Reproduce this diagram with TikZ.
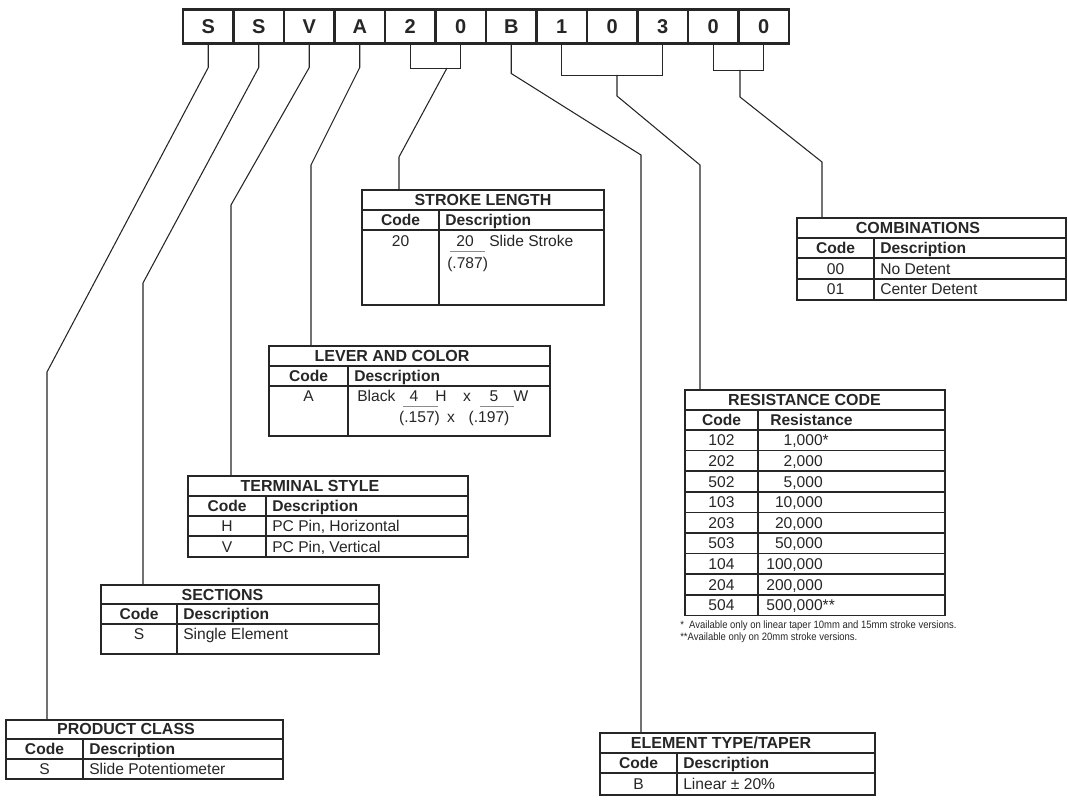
\documentclass[tikz,border=0pt]{standalone}
\usepackage{fontspec}
\setmainfont{Liberation Sans}
\newfontfamily\notefont[FakeStretch=0.89]{Liberation Sans}

\begin{document}
\begin{tikzpicture}[x=0.75pt,y=-0.75pt,
    cell/.style={draw=black!85, line width=1.6pt, minimum width=37.9pt, minimum height=25.5pt,
      inner sep=0pt, outer sep=0pt, font=\fontsize{15}{17}\selectfont\bfseries, text=black!85},
    tbl/.style={draw=black!85, line width=1.1pt},
    lead/.style={draw=black!85, line width=0.8pt},
    frac/.style={draw=black!45, line width=0.5pt},
    ttl/.style={font=\fontsize{12}{14}\selectfont\bfseries, text=black!85, inner sep=0pt, anchor=base},
    hd/.style={font=\fontsize{11.7}{14}\selectfont\bfseries, text=black!85, inner sep=0pt, anchor=base},
    txt/.style={font=\fontsize{11.7}{14}\selectfont, text=black!85, inner sep=0pt, anchor=base},
    note/.style={font=\notefont\fontsize{8}{9}\selectfont, text=black!85, inner sep=0pt, anchor=base west}
  ]
  \useasboundingbox (0,0) rectangle (1068,806);

  % Code row
  \foreach \ch [count=\i] in {S,S,V,A,2,0,B,1,0,3,0,0}
    \node[cell] (c\i) at ({183+50.5*(\i-0.5)},26.5) {\ch};

  % Product class
  \draw[tbl] (6,720) rectangle (283,779);
  \draw[tbl] (6,739) -- (283,739) (6,759) -- (283,759) (83,739) -- (83,779);
  \node[ttl] (pcTitle) at (126,734.5) {PRODUCT CLASS};
  \node[hd] (pcCode) at (44.5,754.5) {Code};
  \node[hd,anchor=base west] (pcDesc) at (89,754.5) {Description};
  \node[txt] (pcS) at (44.5,774) {S};
  \node[txt,anchor=base west] (pcSlide) at (89,774) {Slide Potentiometer};

  % Sections
  \draw[tbl] (101,585) rectangle (379,654);
  \draw[tbl] (101,604) -- (379,604) (101,624) -- (379,624) (177,604) -- (177,654);
  \node[ttl] (secTitle) at (222.5,600) {SECTIONS};
  \node[hd] (secCode) at (139,619.5) {Code};
  \node[hd,anchor=base west] (secDesc) at (183,619.5) {Description};
  \node[txt] (secS) at (139,639) {S};
  \node[txt,anchor=base west] (secSingle) at (183,639) {Single Element};

  % Terminal style
  \draw[tbl] (188,476) rectangle (468,557);
  \draw[tbl] (188,496) -- (468,496) (188,516) -- (468,516) (188,536) -- (468,536) (266,496) -- (266,557);
  \node[ttl] (termTitle) at (310,491.5) {TERMINAL STYLE};
  \node[hd] (termCode) at (227,511.5) {Code};
  \node[hd,anchor=base west] (termDesc) at (272,511.5) {Description};
  \node[txt] (termH) at (227,531.5) {H};
  \node[txt,anchor=base west] (termHor) at (272,531.5) {PC Pin, Horizontal};
  \node[txt] (termV) at (227,552) {V};
  \node[txt,anchor=base west] (termVer) at (272,552) {PC Pin, Vertical};

  % Lever and color
  \draw[tbl] (269,346) rectangle (550,436);
  \draw[tbl] (269,366) -- (550,366) (269,386) -- (550,386) (348,366) -- (348,436);
  \node[ttl] (levTitle) at (392,361.5) {LEVER AND COLOR};
  \node[hd] (levCode) at (308.5,381.5) {Code};
  \node[hd,anchor=base west] (levDesc) at (354,381.5) {Description};
  \node[txt] (levA) at (308.5,401.5) {A};
  \node[txt,anchor=base west] (levBlack) at (357,401.5) {Black};
  \node[txt] (levFour) at (414,401.5) {4};
  \node[txt] (levH) at (441,401.5) {H};
  \node[txt] (levX) at (467,401.5) {x};
  \node[txt] (levFive) at (494,401.5) {5};
  \node[txt] (levW) at (521,401.5) {W};
  \draw[frac] (403,406) -- (438,406) (480,406) -- (514,406);
  \node[txt] (levIn) at (419.5,422.5) {(.157)};
  \node[txt] (levX2) at (451,422.5) {x};
  \node[txt] (levIn2) at (489,422.5) {(.197)};

  % Stroke length
  \draw[tbl] (362,190) rectangle (604,305);
  \draw[tbl] (362,210) -- (604,210) (362,230) -- (604,230) (439,210) -- (439,305);
  \node[ttl] (strTitle) at (483,205.5) {STROKE LENGTH};
  \node[hd] (strCode) at (400.5,225.5) {Code};
  \node[hd,anchor=base west] (strDesc) at (445,225.5) {Description};
  \node[txt] (str20) at (400.5,246.5) {20};
  \node[txt] (strMm) at (465,246.5) {20};
  \draw[frac] (450,251) -- (485,251);
  \node[txt,anchor=base west] (strSlide) at (489,246.5) {Slide Stroke};
  \node[txt,anchor=base west] (strIn) at (447,268.5) {(.787)};

  % Combinations
  \draw[tbl] (797,218) rectangle (1066,300);
  \draw[tbl] (797,238) -- (1066,238) (797,258) -- (1066,258) (797,279) -- (1066,279) (874,238) -- (874,300);
  \node[ttl] (comTitle) at (918,233.5) {COMBINATIONS};
  \node[hd] (comCode) at (835.5,253.5) {Code};
  \node[hd,anchor=base west] (comDesc) at (880,253.5) {Description};
  \node[txt] (com00) at (835.5,274) {00};
  \node[txt,anchor=base west] (comNo) at (880,274) {No Detent};
  \node[txt] (com01) at (835.5,294.5) {01};
  \node[txt,anchor=base west] (comCenter) at (880,294.5) {Center Detent};

  % Resistance code
  \draw[tbl] (685,390) rectangle (945,615.4);
  \draw[tbl] (685,410) -- (945,410) (685,430) -- (945,430) (758,410) -- (758,615.4);
  \node[ttl] (resTitle) at (804.5,405.5) {RESISTANCE CODE};
  \node[hd] (resCode) at (721.5,425.5) {Code};
  \node[hd,anchor=base west] (resRes) at (770,425.5) {Resistance};
  \foreach \cd/\val [count=\k] in {102/{1,000\rlap{*}}, 202/{2,000}, 502/{5,000}, 103/{10,000},
      203/{20,000}, 503/{50,000}, 104/{100,000}, 204/{200,000}, 504/{500,000\rlap{**}}} {
    \draw[tbl] (685,{430+20.6*\k}) -- (945,{430+20.6*\k});
    \node[txt] (resC\k) at (721.5,{430+20.6*(\k-0.5)+5.5}) {\cd};
    \node[txt,anchor=base east] (resV\k) at (823,{430+20.6*(\k-0.5)+5.5}) {\val};
  }
  \node[note] (resNoteA) at (680,628) {*\ \ Available only on linear taper 10mm and 15mm stroke versions.};
  \node[note] (resNoteB) at (680,640) {**Available only on 20mm stroke versions.};

  % Element type/taper
  \draw[tbl] (600,733) rectangle (875,795);
  \draw[tbl] (600,753) -- (875,753) (600,773) -- (875,773) (677,753) -- (677,795);
  \node[ttl] (eleTitle) at (721,748.5) {ELEMENT TYPE/TAPER};
  \node[hd] (eleCode) at (638.5,768.5) {Code};
  \node[hd,anchor=base west] (eleDesc) at (683,768.5) {Description};
  \node[txt] (eleB) at (638.5,789.5) {B};
  \node[txt,anchor=base west] (eleLin) at (683,789.5) {Linear ± 20\%};

  % Table tops where the leaders end
  \coordinate (pcTop) at (47,720);
  \coordinate (secTop) at (143,585);
  \coordinate (termTop) at (231,476);
  \coordinate (levTop) at (311,346);
  \coordinate (strTop) at (399,190);
  \coordinate (eleTop) at (641,733);
  \coordinate (resTop) at (700,390);
  \coordinate (comTop) at (822,218);

  % Leaders
  \draw[lead] (c1.south) -- ++(0,24) -- (47,372) -- (pcTop);
  \draw[lead] (c2.south) -- ++(0,24) -- (143,283) -- (secTop);
  \draw[lead] (c3.south) -- ++(0,24) -- (231,205) -- (termTop);
  \draw[lead] (c4.south) -- ++(0,24) -- (311,165) -- (levTop);
  \draw[lead] (c5.south) -- ++(0,25) -| (c6.south);
  \coordinate (b20) at (447,68);
  \draw[lead] (b20) -- (399,157) -- (strTop);
  \draw[lead] (c7.south) -- ++(0,30) -- (641,155) -- (eleTop);
  \draw[lead] (c8.south) -- ++(0,32) -| (c10.south);
  \coordinate (b103) at (617,75);
  \draw[lead] (b103) -- (617,96) -- (700,165) -- (resTop);
  \draw[lead] (c11.south) -- ++(0,27) -| (c12.south);
  \coordinate (b00) at (740,70);
  \draw[lead] (b00) -- (740,97) -- (822,162) -- (comTop);
\end{tikzpicture}
\end{document}
